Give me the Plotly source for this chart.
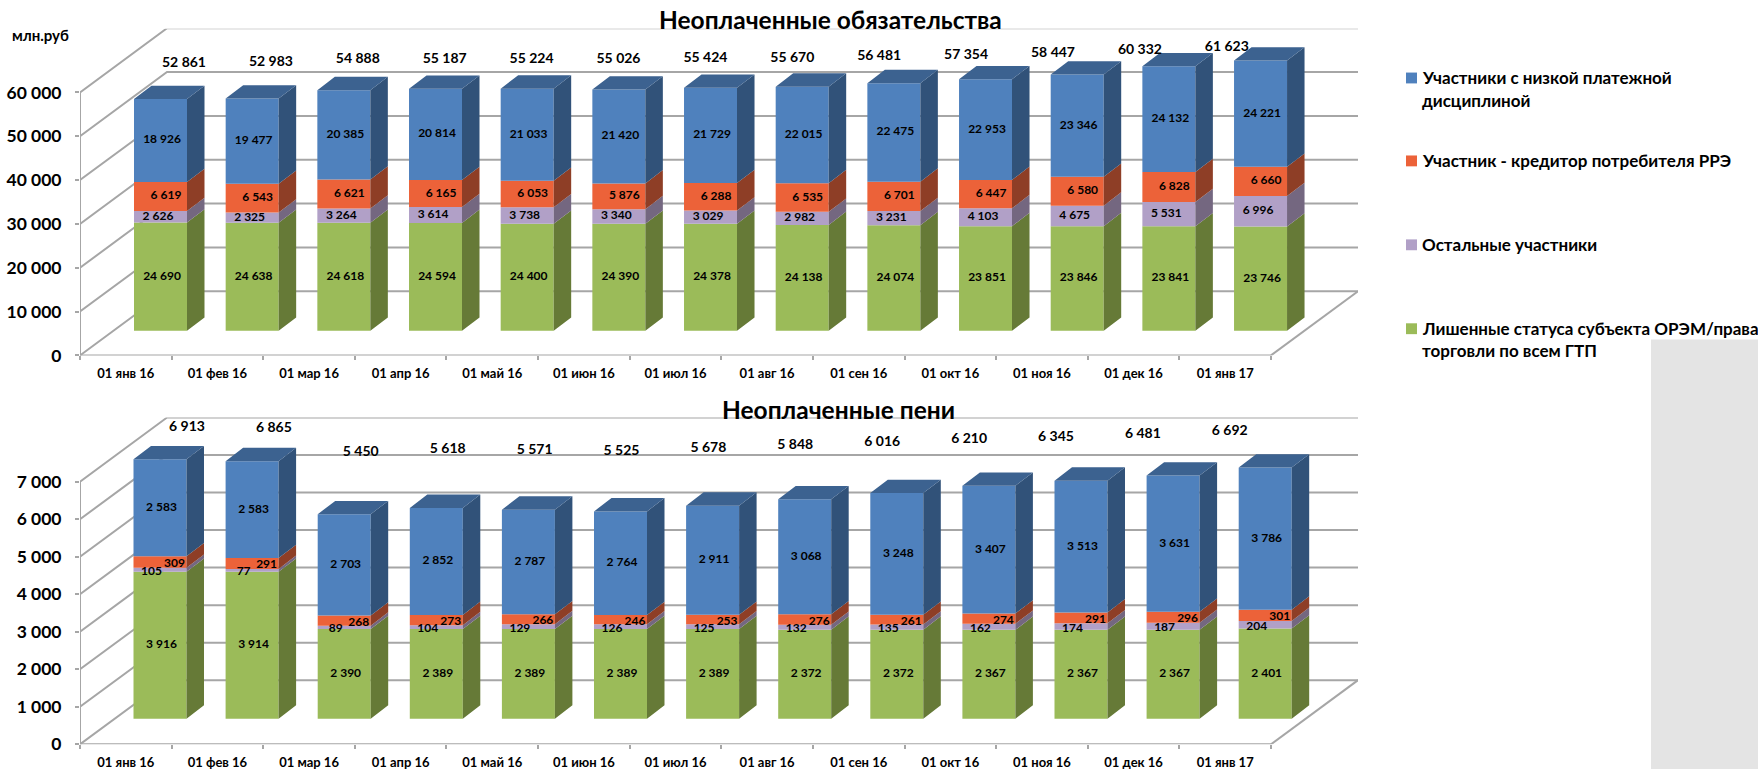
import plotly.graph_objects as go

W, H = 1758, 779
FONT = "Lato"

CATEGORIES = ["01 янв 16", "01 фев 16", "01 мар 16", "01 апр 16", "01 май 16", "01 июн 16", "01 июл 16",
              "01 авг 16", "01 сен 16", "01 окт 16", "01 ноя 16", "01 дек 16", "01 янв 17"]
SERIES_NAMES = ["Лишенные статуса субъекта ОРЭМ/права торговли по всем ГТП", "Остальные участники",
                "Участник - кредитор потребителя РРЭ", "Участники с низкой платежной дисциплиной"]

DEBT_GREEN = [24690, 24638, 24618, 24594, 24400, 24390, 24378, 24138, 24074, 23851, 23846, 23841, 23746]
DEBT_PURPLE = [2626, 2325, 3264, 3614, 3738, 3340, 3029, 2982, 3231, 4103, 4675, 5531, 6996]
DEBT_ORANGE = [6619, 6543, 6621, 6165, 6053, 5876, 6288, 6535, 6701, 6447, 6580, 6828, 6660]
DEBT_BLUE = [18926, 19477, 20385, 20814, 21033, 21420, 21729, 22015, 22475, 22953, 23346, 24132, 24221]
DEBT_TOTAL = [52861, 52983, 54888, 55187, 55224, 55026, 55424, 55670, 56481, 57354, 58447, 60332, 61623]
DEBT_TICKS = [0, 10000, 20000, 30000, 40000, 50000, 60000]

FINE_GREEN = [3916, 3914, 2390, 2389, 2389, 2389, 2389, 2372, 2372, 2367, 2367, 2367, 2401]
FINE_PURPLE = [105, 77, 89, 104, 129, 126, 125, 132, 135, 162, 174, 187, 204]
FINE_ORANGE = [309, 291, 268, 273, 266, 246, 253, 276, 261, 274, 291, 296, 301]
FINE_BLUE = [2583, 2583, 2703, 2852, 2787, 2764, 2911, 3068, 3248, 3407, 3513, 3631, 3786]
FINE_TOTAL = [6913, 6865, 5450, 5618, 5571, 5525, 5678, 5848, 6016, 6210, 6345, 6481, 6692]
FINE_TICKS = [0, 1000, 2000, 3000, 4000, 5000, 6000, 7000]

FRONT = ["#9BBB59", "#B1A0C7", "#EC6239", "#4F81BD"]
SIDE = ["#667A37", "#746780", "#8E3E26", "#315279"]
TOP_FACE = "#3C6290"
WALL = "#A6A6A6"


def fmt(v):
    return f"{v:,}".replace(",", " ")


def px_x(p):
    return p / W


def px_y(p):
    return 1 - p / H


fig = go.Figure()
shapes = []
annotations = []

PANELS = [
    dict(x="x", y="y", xaxis="xaxis", yaxis="yaxis",
         series=[DEBT_GREEN, DEBT_PURPLE, DEBT_ORANGE, DEBT_BLUE], total=DEBT_TOTAL, ticks=DEBT_TICKS,
         y0=360, back_top=29, scale=0.00444, pitch=91.67, bar0=134, bar_bottom=335, wall_dy=65,
         total_x0=184, total_y0=64, total_ref=52861, total_slope=0.00178,
         nudge=[(1.5, 0), (-2.5, 0), (5.5, 0), (1.5, 0)]),
    dict(x="x2", y="y2", xaxis="xaxis2", yaxis="yaxis2",
         series=[FINE_GREEN, FINE_PURPLE, FINE_ORANGE, FINE_BLUE], total=FINE_TOTAL, ticks=FINE_TICKS,
         y0=754, back_top=423, scale=0.038, pitch=92.1, bar0=133.5, bar_bottom=728, wall_dy=65,
         total_x0=187, total_y0=457, total_ref=5525, total_slope=0.0173,
         nudge=[(1.5, 0), (-8.5, 2), (14.5, 2), (1.5, 0)]),
]

X_LEFT, X_RIGHT_FRONT, X_RIGHT_BACK, WALL_DX = 80, 1271, 1358, 87
UNIT = (X_RIGHT_FRONT - X_LEFT) / len(CATEGORIES)
BAR_W, DEPTH_X, DEPTH_Y = 53, 17.5, 13.5

for p in PANELS:
    n = len(CATEGORIES)
    s = p["scale"]
    to_x = lambda q: (q - X_LEFT) / UNIT
    to_v = lambda q, p=p: (p["y0"] - q) / p["scale"]
    ddx, ddy = DEPTH_X / UNIT, DEPTH_Y / s
    wall_x, wall_v = WALL_DX / UNIT, p["wall_dy"] / s
    x_end_front = to_x(X_RIGHT_FRONT)
    x_end_back = to_x(X_RIGHT_BACK)
    line = dict(color=WALL, width=2)

    for v in p["ticks"]:
        path = f"M 0 {v} L {wall_x} {v + wall_v} L {x_end_back} {v + wall_v}"
        shapes.append(dict(type="path", path=path, xref=p["x"], yref=p["y"], line=line, layer="below"))
    shapes.append(dict(type="path", xref=p["x"], yref=p["y"], line=line, layer="below",
                       path=f"M {x_end_front} 0 L {x_end_back} {wall_v}"))
    shapes.append(dict(type="path", xref=p["x"], yref=p["y"], line=line, layer="below",
                       path=f"M 0 {p['ticks'][-1]} L 0 0 L {x_end_front} 0"))

    left = [to_x(p["bar0"] + p["pitch"] * i) for i in range(n)]
    bw = BAR_W / UNIT
    centres = [a + bw / 2 for a in left]
    cum = [to_v(p["bar_bottom"])] * n

    for k, vals in enumerate(p["series"]):
        fig.add_trace(go.Bar(x=centres, y=vals, base=cum, width=bw, xaxis=p["x"], yaxis=p["y"],
                             name=SERIES_NAMES[k], marker=dict(color=FRONT[k], line=dict(width=0)),
                             showlegend=False, hoverinfo="skip"))
        xs, ys = [], []
        for i in range(n):
            r = left[i] + bw
            b, t = cum[i], cum[i] + vals[i]
            xs += [r, r + ddx, r + ddx, r, r, None]
            ys += [b, b + ddy, t + ddy, t, b, None]
        fig.add_trace(go.Scatter(x=xs, y=ys, fill="toself", fillcolor=SIDE[k], mode="lines",
                                 line=dict(width=0), xaxis=p["x"], yaxis=p["y"],
                                 showlegend=False, hoverinfo="skip"))
        dx_lab, dy_lab = p["nudge"][k]
        fig.add_trace(go.Scatter(
            x=[c + dx_lab / UNIT for c in centres],
            y=[cum[i] + vals[i] / 2 - dy_lab / s for i in range(n)],
            text=[fmt(v) for v in vals], mode="text", textposition="middle center",
            textfont=dict(family=FONT, size=12, color="black", weight=700),
            xaxis=p["x"], yaxis=p["y"], showlegend=False, hoverinfo="skip", cliponaxis=False))
        cum = [c + v for c, v in zip(cum, vals)]

    xs, ys = [], []
    for i in range(n):
        l, r, t = left[i], left[i] + bw, cum[i]
        xs += [l, l + ddx, r + ddx, r, l, None]
        ys += [t, t + ddy, t + ddy, t, t, None]
    fig.add_trace(go.Scatter(x=xs, y=ys, fill="toself", fillcolor=TOP_FACE, mode="lines", line=dict(width=0),
                             xaxis=p["x"], yaxis=p["y"], showlegend=False, hoverinfo="skip"))

    tx = [to_x(p["total_x0"] + 86.9 * i) for i in range(n)]
    ty = [to_v(p["total_y0"] - (t - p["total_ref"]) * p["total_slope"]) for t in p["total"]]
    fig.add_trace(go.Scatter(x=tx, y=ty, text=[fmt(t) for t in p["total"]], mode="text",
                             textposition="middle center",
                             textfont=dict(family=FONT, size=14, color="black", weight=700),
                             xaxis=p["x"], yaxis=p["y"], showlegend=False, hoverinfo="skip", cliponaxis=False))

    fig.layout[p["xaxis"]] = dict(
        domain=[px_x(X_LEFT), px_x(X_RIGHT_BACK)], range=[0, x_end_back], anchor=p["y"],
        tickvals=[i + 0.5 for i in range(n)], ticktext=CATEGORIES, ticks="", showgrid=False, zeroline=False,
        showline=False, ticklabelstandoff=9, tickangle=0,
        tickfont=dict(family=FONT, size=13, color="black", weight=700),
        minor=dict(tickvals=list(range(n + 1)), ticks="outside", ticklen=4, tickcolor=WALL, tickwidth=2))
    fig.layout[p["yaxis"]] = dict(
        domain=[px_y(p["y0"]), px_y(p["back_top"])], range=[0, (p["y0"] - p["back_top"]) / s], anchor=p["x"],
        tickvals=p["ticks"], ticktext=[fmt(v) for v in p["ticks"]], ticks="outside", ticklen=4,
        tickcolor=WALL, tickwidth=2, showgrid=False, zeroline=False, showline=False, ticklabelstandoff=10,
        tickfont=dict(family=FONT, size=17.5, color="black", weight=700))


def note(text, x, y, size, anchor="left"):
    annotations.append(dict(text=text, xref="paper", yref="paper", x=px_x(x), y=px_y(y), showarrow=False,
                            xanchor=anchor, yanchor="middle", align="left",
                            font=dict(family=FONT, size=size, color="black", weight=700)))


note("Неоплаченные обязательства", 830, 20, 24.5, "center")
note("Неоплаченные пени", 838, 415, 24.5, "center")
note("млн.руб", 10, 35, 15)

LEGEND_ROWS = [(3, "Участники с низкой платежной", 79), (2, "Участник - кредитор потребителя РРЭ", 163),
               (1, "Остальные участники", 248), (0, "Лишенные статуса субъекта ОРЭМ/права", 333)]
for k, label, y in LEGEND_ROWS:
    shapes.append(dict(type="rect", xref="paper", yref="paper", x0=px_x(1406), x1=px_x(1417),
                       y0=px_y(y + 5.5), y1=px_y(y - 5.5), fillcolor=FRONT[k], line=dict(width=0)))
    note(label, 1420, y, 17)
note("дисциплиной", 1420, 102, 17)
note("торговли по всем ГТП", 1420, 355, 17)

shapes.append(dict(type="rect", xref="paper", yref="paper", x0=px_x(1651), x1=1, y0=0, y1=px_y(344),
                   fillcolor="#E4E4E4", line=dict(width=0), layer="below"))

fig.update_layout(width=W, height=H, margin=dict(l=0, r=0, t=0, b=0), paper_bgcolor="white",
                  plot_bgcolor="rgba(0,0,0,0)", barmode="overlay", showlegend=False,
                  shapes=shapes, annotations=annotations)

fig.write_html("out.html", post_script="document.body.style.margin='0';", config=dict(displayModeBar=False))
